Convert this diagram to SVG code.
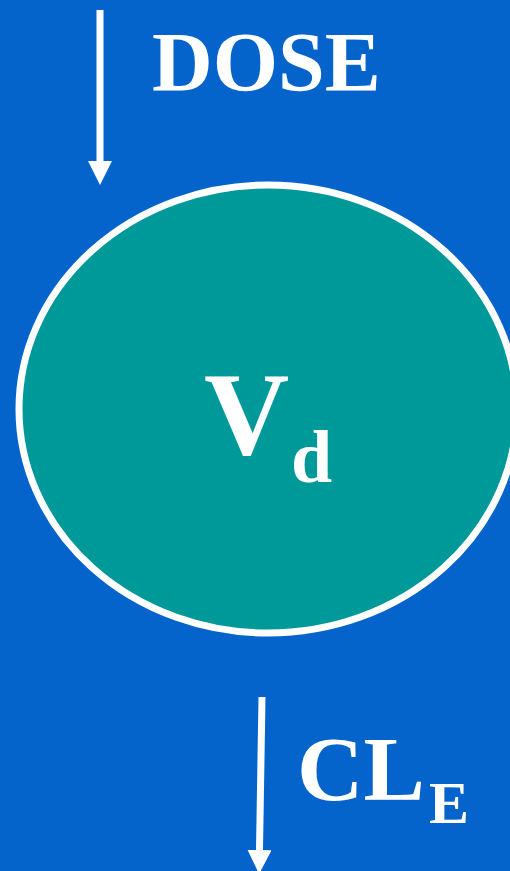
<svg xmlns="http://www.w3.org/2000/svg" width="510" height="871" viewBox="0 0 510 871">
<style>
.t{font-family:"Liberation Serif","Times New Roman",serif;font-weight:bold;fill:#fff}
.c{stroke:#fff;stroke-width:7;fill:none}
</style>
<defs>
<marker id="ah" markerUnits="userSpaceOnUse" markerWidth="24" markerHeight="24" viewBox="0 0 24 24" refX="0" refY="12" orient="auto">
<path d="M0,0 L24,12 L0,24 Z" fill="#fff"/>
</marker>
</defs>
<rect width="510" height="871" fill="#0563CC"/>
<g id="compartment">
<ellipse cx="268" cy="409" rx="249" ry="224" fill="#009999" stroke="#fff" stroke-width="7"/>
<text class="t" x="204" y="454" font-size="118">V</text>
<text class="t" x="291" y="482" font-size="74">d</text>
</g>
<g id="dose-label">
<text class="t" x="152" y="91" font-size="84">DOSE</text>
</g>
<g id="cle-label">
<text class="t" x="297" y="800" font-size="92">CL</text>
<text class="t" x="429" y="823" font-size="60">E</text>
</g>
<g id="connectors">
<line class="c" x1="100" y1="10" x2="100" y2="161" marker-end="url(#ah)"/>
<line class="c" x1="262" y1="697" x2="259.5" y2="850" marker-end="url(#ah)"/>
</g>
</svg>
